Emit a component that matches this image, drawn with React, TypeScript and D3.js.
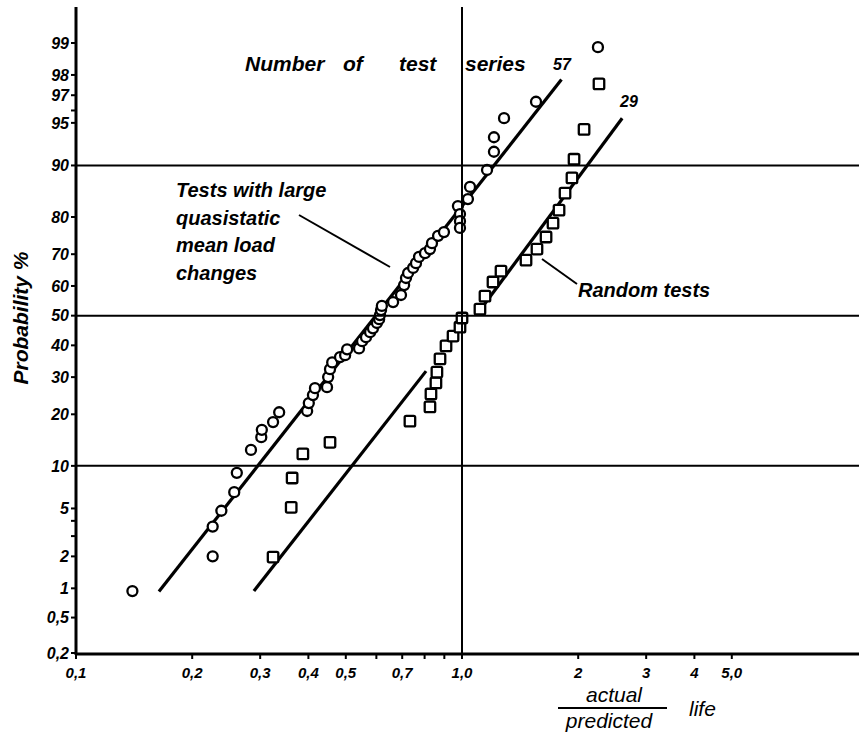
import * as d3 from 'd3';

// actual / predicted life ratio and cumulative probability (%)
const circleRatio = [
  0.14, 0.226, 0.226, 0.238, 0.257, 0.261, 0.284, 0.302, 0.303, 0.324,
  0.336, 0.397, 0.401, 0.411, 0.416, 0.447, 0.45, 0.455, 0.461, 0.483,
  0.498, 0.504, 0.541, 0.551, 0.564, 0.578, 0.588, 0.602, 0.61, 0.613,
  0.617, 0.62, 0.663, 0.695, 0.708, 0.716, 0.725, 0.747, 0.76, 0.774,
  0.802, 0.826, 0.836, 0.867, 0.898, 0.976, 0.988, 0.988, 0.988, 1.036,
  1.049, 1.161, 1.21, 1.21, 1.285, 1.555, 2.25,
];
const circleProb = [
  0.94, 2.0, 3.6, 4.8, 6.6, 9.0, 12.6, 15.0, 16.5, 18.2,
  20.5, 20.8, 22.8, 24.9, 26.8, 27.1, 30.0, 32.4, 34.5, 36.2,
  36.8, 38.7, 39.0, 41.4, 42.7, 44.4, 45.7, 47.5, 48.8, 50.2,
  51.9, 53.3, 54.6, 57.0, 60.3, 62.6, 64.2, 65.8, 67.3, 69.2,
  70.3, 71.5, 73.2, 75.2, 76.2, 82.5, 80.7, 79.0, 77.3, 84.0,
  86.4, 89.3, 91.9, 93.6, 95.4, 96.6, 98.9,
];

const squareRatio = [
  0.324, 0.361, 0.363, 0.387, 0.455, 0.733, 0.826, 0.831, 0.856, 0.861,
  0.877, 0.909, 0.948, 0.988, 1.0, 1.113, 1.147, 1.203, 1.262, 1.465,
  1.564, 1.651, 1.721, 1.784, 1.849, 1.927, 1.951, 2.071, 2.264,
];
const squareProb = [
  1.97, 5.1, 8.3, 11.9, 14.0, 18.4, 21.8, 25.2, 28.3, 31.5,
  35.6, 39.8, 43.1, 46.1, 49.2, 52.2, 56.6, 61.3, 64.8, 68.2,
  71.5, 74.9, 78.5, 81.6, 85.2, 88.0, 90.9, 94.4, 97.6,
];

// fitted lines [ratio, probability]
const fitCircles: [number, number][] = [[0.164, 0.93], [1.81, 97.8]];
const fitSquaresLow: [number, number][] = [[0.289, 0.94], [0.807, 31.8]];
const fitSquaresHigh: [number, number][] = [[1.1, 50.9], [2.6, 95.4]];

const yTicks = [99, 98, 97, 95, 90, 80, 70, 60, 50, 40, 30, 20, 10, 5, 2, 1, 0.5, 0.2];
const yTickLabels = ['99', '98', '97', '95', '90', '80', '70', '60', '50', '40', '30', '20', '10', '5', '2', '1', '0,5', '0,2'];
const yMinorTicks = [96, 4, 3];
const yGrid = [90, 50, 10];

const xTicks = [0.1, 0.2, 0.3, 0.4, 0.5, 0.7, 1, 2, 3, 4, 5];
const xTickLabels = ['0,1', '0,2', '0,3', '0,4', '0,5', '0,7', '1,0', '2', '3', '4', '5,0'];
const xMinorTicks = [0.6, 0.8, 0.9];

const seriesCounts = ['57', '29'];

// inverse normal CDF (Acklam)
function probit(p: number): number {
  const a = [-39.69683028665376, 220.9460984245205, -275.9285104469687, 138.357751867269, -30.66479806614716, 2.506628277459239];
  const b = [-54.47609879822406, 161.5858368580409, -155.6989798598866, 66.80131188771972, -13.28068155288572];
  const c = [-0.007784894002430293, -0.3223964580411365, -2.400758277161838, -2.549732539343734, 4.374664141464968, 2.938163982698783];
  const d = [0.007784695709041462, 0.3224671290700398, 2.445134137142996, 3.754408661907416];
  const pl = 0.02425;
  if (p < pl) {
    const q = Math.sqrt(-2 * Math.log(p));
    return (((((c[0] * q + c[1]) * q + c[2]) * q + c[3]) * q + c[4]) * q + c[5]) / ((((d[0] * q + d[1]) * q + d[2]) * q + d[3]) * q + 1);
  }
  if (p > 1 - pl) {
    const q = Math.sqrt(-2 * Math.log(1 - p));
    return -(((((c[0] * q + c[1]) * q + c[2]) * q + c[3]) * q + c[4]) * q + c[5]) / ((((d[0] * q + d[1]) * q + d[2]) * q + d[3]) * q + 1);
  }
  const q = p - 0.5;
  const r = q * q;
  return ((((((a[0] * r + a[1]) * r + a[2]) * r + a[3]) * r + a[4]) * r + a[5]) * q) / (((((b[0] * r + b[1]) * r + b[2]) * r + b[3]) * r + b[4]) * r + 1);
}

const W = 859;
const H = 736;
const left = 76;
const bottom = 654;
const top = 7;

const font = "'Liberation Sans', Arial, sans-serif";

export default function App() {
  const x = d3.scaleLog().domain([0.1, 1]).range([left, 462]);
  const zScale = d3.scaleLinear().domain([probit(0.002), probit(0.99)]).range([653, 43]);
  const y = (p: number) => zScale(probit(p / 100));

  const line = d3
    .line<[number, number]>()
    .x((d) => x(d[0]))
    .y((d) => y(d[1]));

  const sq = 10.5;

  return (
    <svg
      width={W}
      height={H}
      style={{ position: 'absolute', left: 0, top: 0, background: '#fff' }}
      fontFamily={font}
    >
      {/* fitted lines */}
      <g stroke="#000" strokeWidth={3.2} fill="none">
        <path d={line(fitCircles) || ''} />
        <path d={line(fitSquaresLow) || ''} />
        <path d={line(fitSquaresHigh) || ''} />
      </g>

      {/* test points */}
      <g stroke="#000" strokeWidth={2.3} fill="#fff">
        {circleRatio.map((r, i) => (
          <circle key={'c' + i} cx={x(r)} cy={y(circleProb[i])} r={5} />
        ))}
        {squareRatio.map((r, i) => (
          <rect
            key={'s' + i}
            x={x(r) - sq / 2}
            y={y(squareProb[i]) - sq / 2}
            width={sq}
            height={sq}
            rx={1.5}
          />
        ))}
      </g>

      {/* grid and axes */}
      <g stroke="#000">
        {yGrid.map((p) => (
          <line key={p} x1={left} x2={W} y1={y(p)} y2={y(p)} strokeWidth={2} />
        ))}
        <line x1={x(1)} x2={x(1)} y1={top} y2={bottom} strokeWidth={2} />
        <line x1={left} x2={left} y1={top} y2={bottom + 1} strokeWidth={3} />
        <line x1={left} x2={W} y1={bottom} y2={bottom} strokeWidth={3} />
        {yTicks.concat(yMinorTicks).map((p) => (
          <line key={'yt' + p} x1={left - 5} x2={left} y1={y(p)} y2={y(p)} strokeWidth={2} />
        ))}
        {xTicks.concat(xMinorTicks).map((v) => (
          <line key={'xt' + v} x1={x(v)} x2={x(v)} y1={bottom} y2={bottom + 5} strokeWidth={2} />
        ))}
      </g>

      {/* tick labels */}
      <g fontStyle="italic" fontWeight="bold" fill="#000">
        {yTicks.map((p, i) => (
          <text key={'yl' + p} x={left - 7} y={y(p)} dy="0.36em" textAnchor="end" fontSize={16}>
            {yTickLabels[i]}
          </text>
        ))}
        {xTicks.map((v, i) => (
          <text key={'xl' + v} x={x(v)} y={678} textAnchor="middle" fontSize={15}>
            {xTickLabels[i]}
          </text>
        ))}
      </g>

      {/* annotations */}
      <g fontStyle="italic" fontWeight="bold" fill="#000" fontSize={21}>
        <text x={245} y={71}>Number</text>
        <text x={343} y={71}>of</text>
        <text x={399} y={71}>test</text>
        <text x={465} y={71}>series</text>
        <text x={553} y={70} fontSize={16}>{seriesCounts[0]}</text>
        <text x={620} y={107} fontSize={16}>{seriesCounts[1]}</text>

        <text x={176} y={197} fontSize={20}>Tests with large</text>
        <text x={176} y={225} fontSize={20}>quasistatic</text>
        <text x={176} y={252} fontSize={20}>mean load</text>
        <text x={176} y={280} fontSize={20}>changes</text>

        <text x={578} y={297} fontSize={20}>Random tests</text>

        <text transform="translate(28, 318) rotate(-90)" textAnchor="middle" fontSize={21}>
          Probability  %
        </text>
      </g>
      <g stroke="#000" strokeWidth={2}>
        <line x1={299} y1={215} x2={390} y2={267} />
        <line x1={542} y1={259} x2={577} y2={284} />
      </g>

      {/* x axis title */}
      <g fontStyle="italic" fill="#000" fontSize={21}>
        <text x={614} y={702} textAnchor="middle">actual</text>
        <line x1={558} x2={667} y1={708} y2={708} stroke="#000" strokeWidth={2} />
        <text x={609} y={728} textAnchor="middle">predicted</text>
        <text x={689} y={716}>life</text>
      </g>
    </svg>
  );
}
